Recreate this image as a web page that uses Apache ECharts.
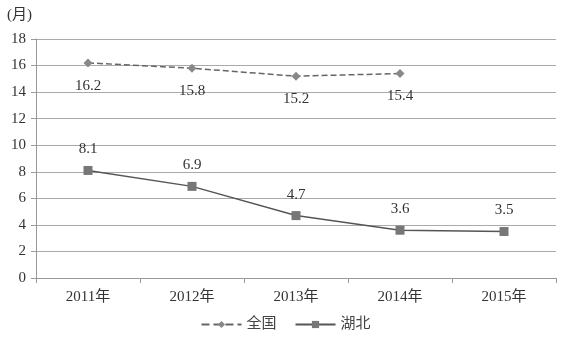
<!DOCTYPE html>
<html><head><meta charset="utf-8">
<script src="https://cdn.jsdelivr.net/npm/echarts@6/dist/echarts.min.js"></script>
<style>html,body{margin:0;padding:0;background:#fff}#c{width:571px;height:343px}</style>
</head><body><div id="c"></div>
<script>
var categories = ['2011年','2012年','2013年','2014年','2015年'];
var national = [16.2, 15.8, 15.2, 15.4, null];
var hubei = [8.1, 6.9, 4.7, 3.6, 3.5];
var yUnit = '(月)';
var font = '"Liberation Serif","Noto Sans CJK SC",serif';
var chart = echarts.init(document.getElementById('c'));
chart.setOption({
  animation:false,
  textStyle:{fontFamily:font},
  grid:{left:36,right:15,top:39,bottom:65,containLabel:false},
  legend:{bottom:6,left:'center',itemGap:18,itemWidth:40,itemHeight:9,
    textStyle:{fontFamily:font,fontSize:15,color:'#444'},
    data:['全国','湖北']},
  xAxis:{type:'category',data:categories,boundaryGap:true,
    axisLine:{lineStyle:{color:'#999'}},
    axisTick:{show:true,lineStyle:{color:'#999'},length:5},
    axisLabel:{color:'#333',fontSize:15,fontFamily:font,margin:12}},
  yAxis:{type:'value',min:0,max:18,interval:2,
    name:yUnit,nameLocation:'end',nameGap:16,
    nameTextStyle:{color:'#333',fontSize:15,fontFamily:font,align:'right',padding:[0,4,0,0]},
    axisLine:{show:true,lineStyle:{color:'#999'}},
    axisTick:{show:true,lineStyle:{color:'#999'},length:5},
    splitLine:{lineStyle:{color:'#aaa'}},
    axisLabel:{color:'#333',fontSize:15,fontFamily:font,margin:10}},
  series:[
    {name:'全国',type:'line',data:national,symbol:'diamond',symbolSize:9,
     lineStyle:{type:'dashed',color:'#666',width:1.5},itemStyle:{color:'#888'},
     label:{show:true,position:'bottom',distance:11,color:'#333',fontSize:15,fontFamily:font}},
    {name:'湖北',type:'line',data:hubei,symbol:'rect',symbolSize:9,
     lineStyle:{type:'solid',color:'#555',width:1.5},itemStyle:{color:'#777'},
     label:{show:true,position:'top',distance:9,color:'#333',fontSize:15,fontFamily:font}}
  ]
});
</script></body></html>
